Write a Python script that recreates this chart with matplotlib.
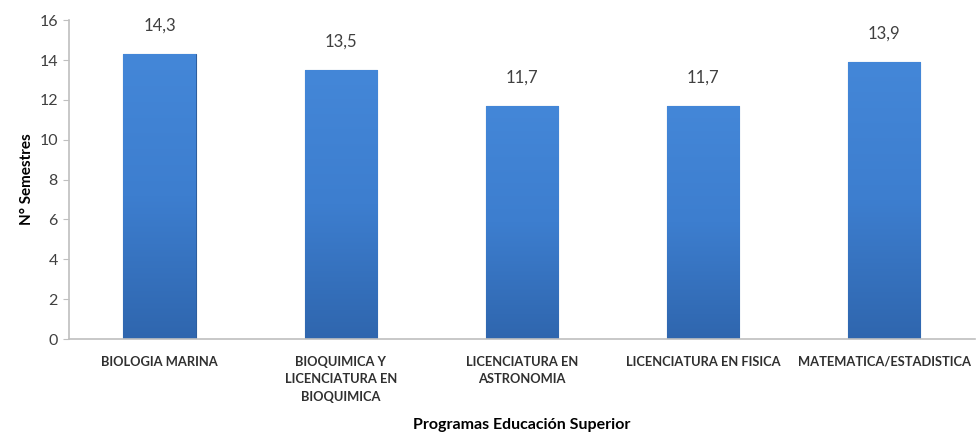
import numpy as np
import matplotlib
matplotlib.use("Agg")
import matplotlib.pyplot as plt
from matplotlib.colors import LinearSegmentedColormap

# Datos
programas = ["BIOLOGIA MARINA",
             "BIOQUIMICA Y\nLICENCIATURA EN\nBIOQUIMICA",
             "LICENCIATURA EN\nASTRONOMIA",
             "LICENCIATURA EN FISICA",
             "MATEMATICA/ESTADISTICA"]
semestres = [14.3, 13.5, 11.7, 11.7, 13.9]
etiquetas = ["14,3", "13,5", "11,7", "11,7", "13,9"]
yticks = [0, 2, 4, 6, 8, 10, 12, 14, 16]

plt.rcParams['font.family'] = ['Lato', 'DejaVu Sans']

fig = plt.figure(figsize=(9.78, 4.38), dpi=100)
ax = fig.add_axes([0.0706, 0.226, 0.926, 0.728])

x = np.arange(len(programas))
bars = ax.bar(x, semestres, width=0.4, color='#3B78C8', edgecolor='#2D5E9E', linewidth=0.8, zorder=2)

# degradado vertical dentro de cada barra
cmap = LinearSegmentedColormap.from_list("azul", ["#2F66AE", "#3D7ECF", "#4487D8"])
grad = np.linspace(0, 1, 256).reshape(-1, 1)
for b in bars:
    x0, w, h = b.get_x(), b.get_width(), b.get_height()
    im = ax.imshow(grad, extent=[x0, x0 + w, 0, h], origin='lower', aspect='auto',
                   cmap=cmap, zorder=2.5)
    im.set_clip_path(b)

for xi, v, t in zip(x, semestres, etiquetas):
    ax.text(xi, v + 1.0, t, ha='center', va='bottom', fontsize=12, color='#404040')

ax.set_xlim(-0.5, len(programas) - 0.5)
ax.set_ylim(0, 16)
ax.set_yticks(yticks)
ax.set_yticklabels([str(t) for t in yticks], fontsize=11.5, color='#404040')
ax.set_xticks(x)
ax.set_xticklabels(programas, fontsize=9.3, fontweight='bold', color='#303030', linespacing=1.55)
ax.tick_params(axis='x', length=0, pad=12)
ax.tick_params(axis='y', length=4, color='#BFBFBF', pad=4)

for s in ['top', 'right']:
    ax.spines[s].set_visible(False)
for s in ['left', 'bottom']:
    ax.spines[s].set_color('#BFBFBF')
    ax.spines[s].set_linewidth(1.2)

ax.set_ylabel("N° Semestres", fontsize=11, fontweight='bold', labelpad=4)
ax.set_xlabel("Programas Educación Superior", fontsize=11.5, fontweight='bold', labelpad=11)

plt.savefig("out.png", dpi=100)
